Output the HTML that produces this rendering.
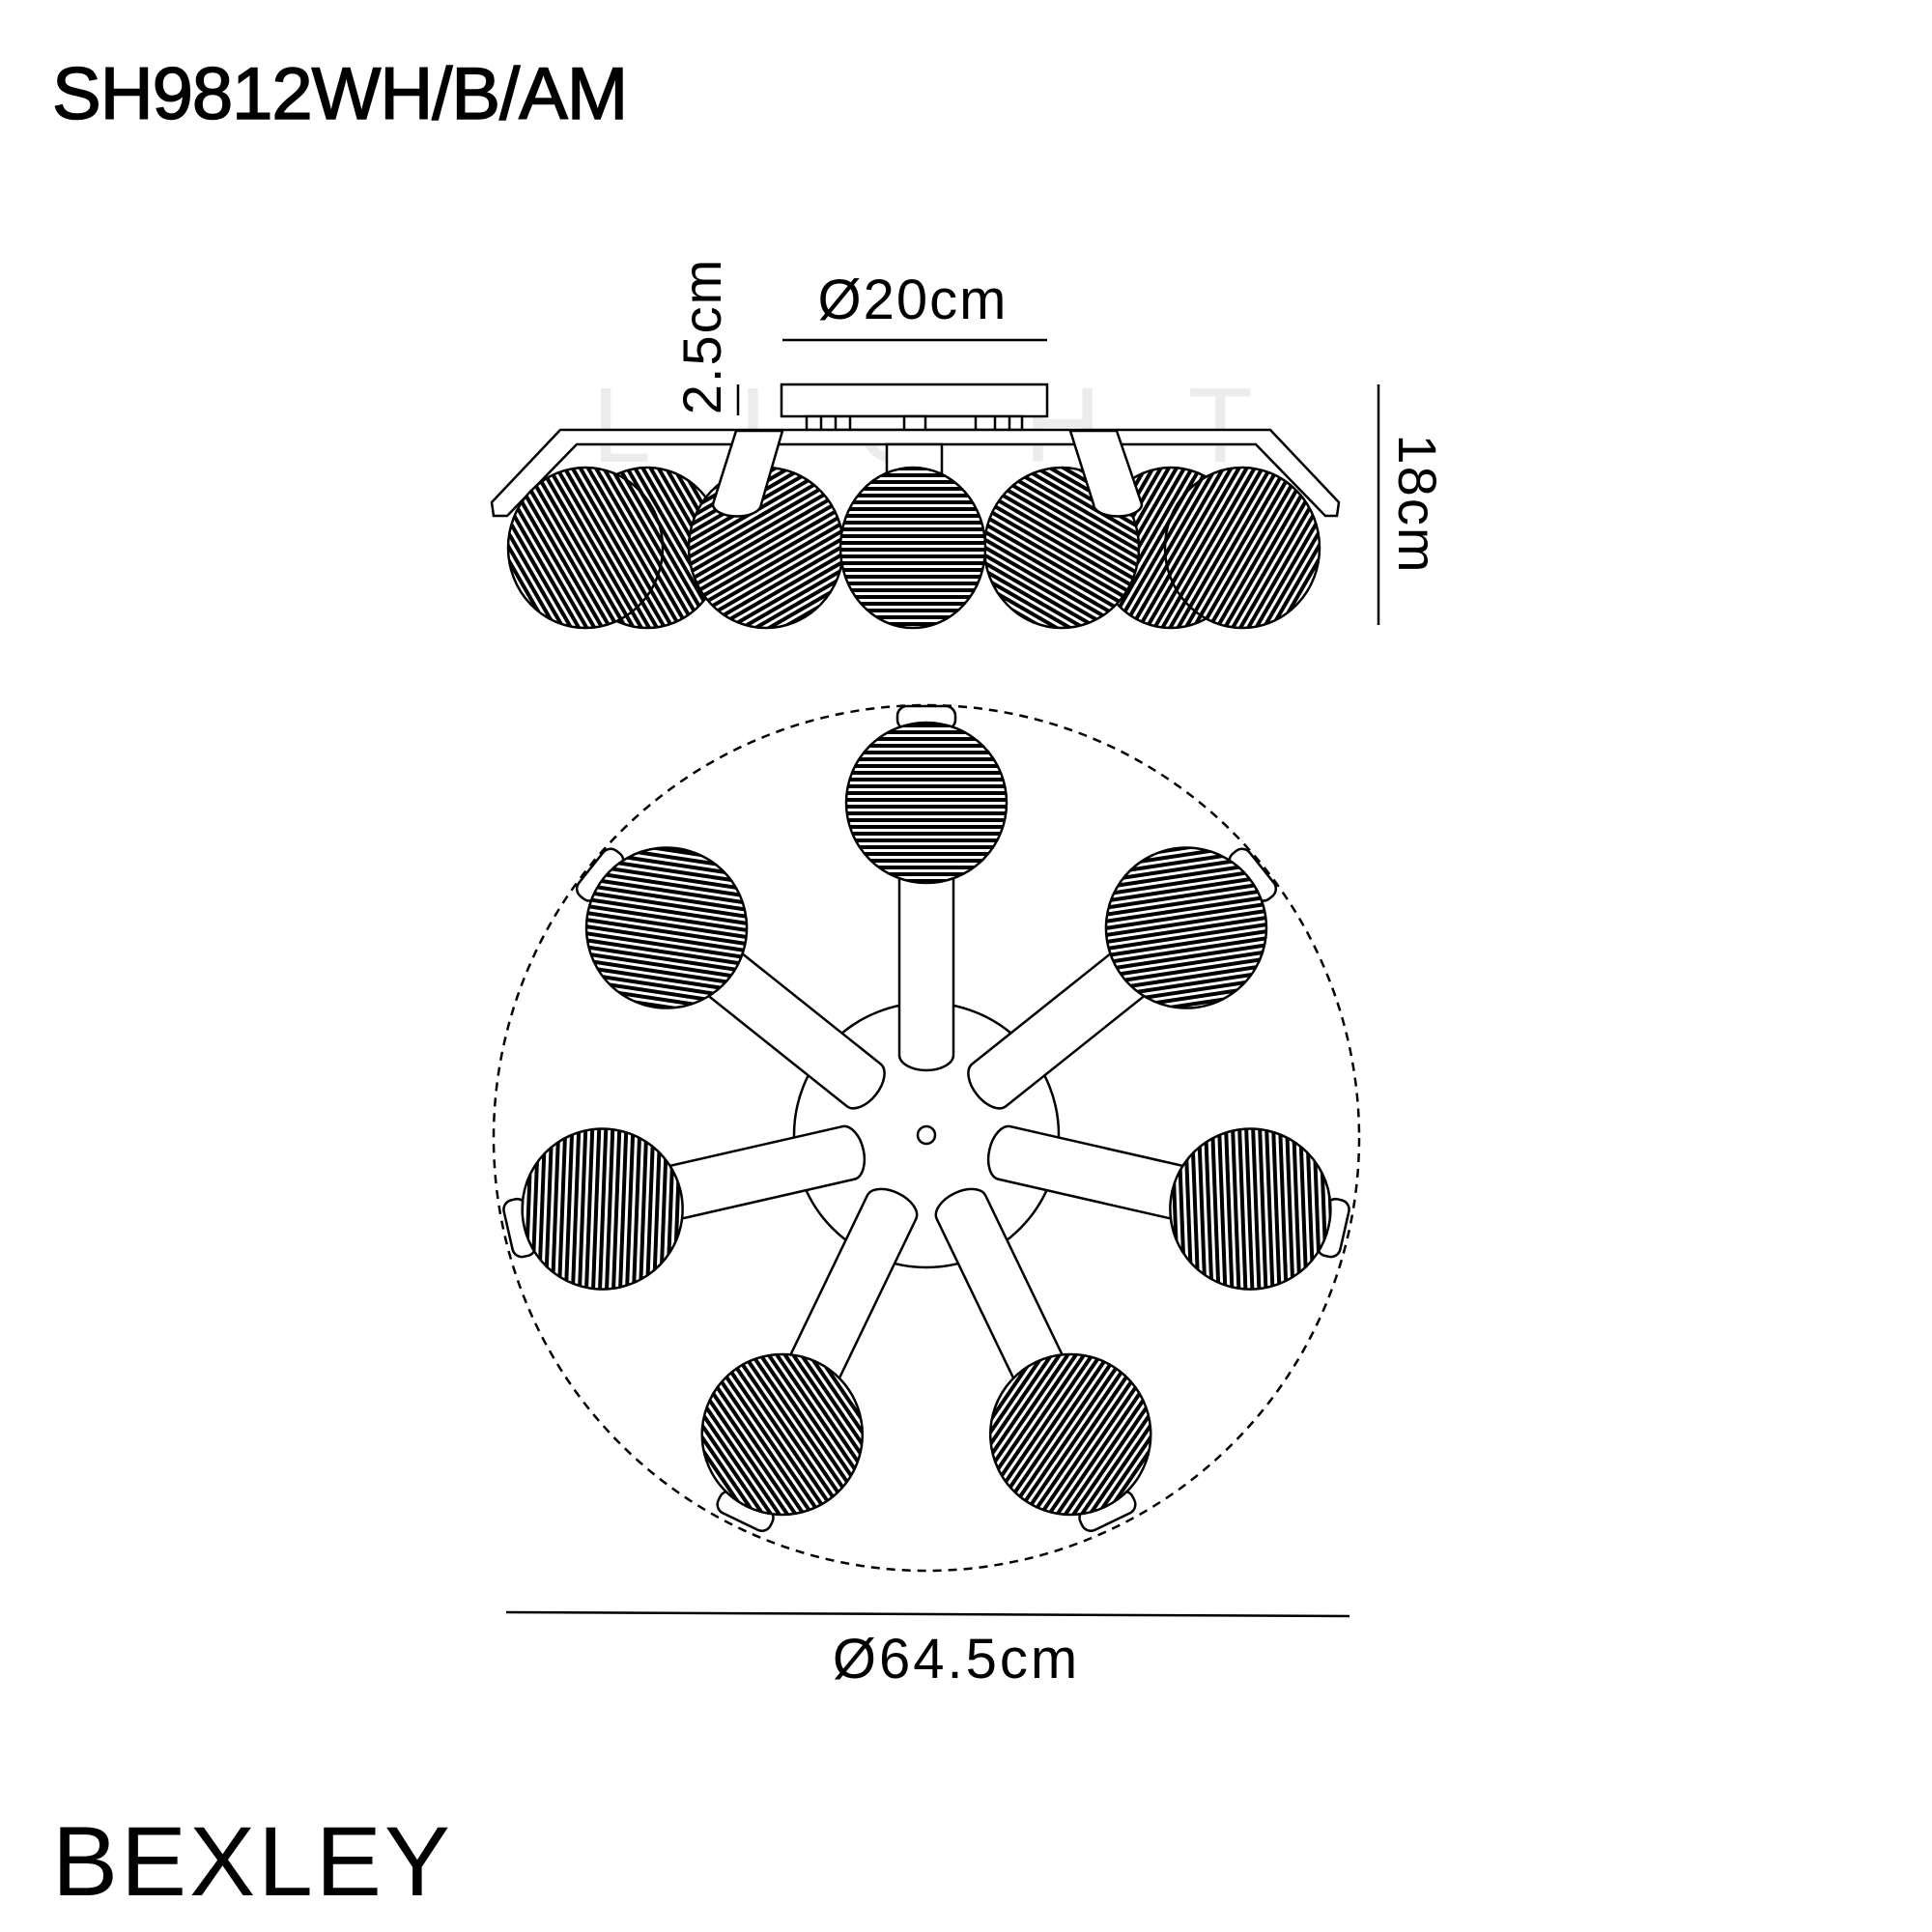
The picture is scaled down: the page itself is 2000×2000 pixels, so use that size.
<!DOCTYPE html>
<html><head><meta charset="utf-8"><style>
html,body{margin:0;padding:0;background:#fff;}
svg{display:block;}
text{font-family:"Liberation Sans",sans-serif;fill:#000;}
</style></head><body>
<svg width="2000" height="2000" viewBox="0 0 2000 2000" xmlns="http://www.w3.org/2000/svg">
<defs>
<pattern id="h0" width="20" height="7" patternUnits="userSpaceOnUse"><rect width="20" height="7" fill="#fff"/><rect y="0" width="20" height="4" fill="#000"/></pattern>
<pattern id="h1" width="20" height="7" patternUnits="userSpaceOnUse" patternTransform="rotate(-30)"><rect width="20" height="7" fill="#fff"/><rect width="20" height="4" fill="#000"/></pattern>
<pattern id="h2" width="20" height="7" patternUnits="userSpaceOnUse" patternTransform="rotate(30)"><rect width="20" height="7" fill="#fff"/><rect width="20" height="4" fill="#000"/></pattern>
<pattern id="h3" width="20" height="7" patternUnits="userSpaceOnUse" patternTransform="rotate(60)"><rect width="20" height="7" fill="#fff"/><rect width="20" height="4" fill="#000"/></pattern>
<pattern id="h4" width="20" height="7" patternUnits="userSpaceOnUse" patternTransform="rotate(-60)"><rect width="20" height="7" fill="#fff"/><rect width="20" height="4" fill="#000"/></pattern>
<pattern id="h6" width="20" height="7" patternUnits="userSpaceOnUse" patternTransform="rotate(-15)"><rect width="20" height="7" fill="#fff"/><rect width="20" height="4" fill="#000"/></pattern>
<pattern id="h7" width="20" height="7" patternUnits="userSpaceOnUse" patternTransform="rotate(15)"><rect width="20" height="7" fill="#fff"/><rect width="20" height="4" fill="#000"/></pattern>
</defs>

<text x="54" y="123" font-size="76" stroke="#000" stroke-width="1.5" style="letter-spacing:-1px">SH9812WH/B/AM</text>
<text x="54" y="1962" font-size="102" style="letter-spacing:3px">BEXLEY</text>

<text x="1000" y="478" font-size="110" text-anchor="middle" style="fill:#ececec;letter-spacing:90px">LIGHT</text>

<g stroke="#000" stroke-width="2.5" fill="#fff">
<line x1="810" y1="352" x2="1084" y2="352"/>
<text x="945" y="330" font-size="58" text-anchor="middle" stroke="none" style="letter-spacing:2px">Ø20cm</text>
<line x1="764" y1="398" x2="764" y2="430"/>
<text transform="translate(746,348) rotate(-90)" font-size="56" text-anchor="middle" stroke="none" style="letter-spacing:2px">2.5cm</text>
<line x1="1427" y1="398" x2="1427" y2="647"/>
<text transform="translate(1448,522) rotate(90)" font-size="56" text-anchor="middle" stroke="none" style="letter-spacing:2px">18cm</text>

<rect x="809" y="398" width="275" height="33"/>
<rect x="835" y="431" width="223" height="14"/>
<line x1="850" y1="431" x2="850" y2="445"/><line x1="865" y1="431" x2="865" y2="445"/><line x1="880" y1="431" x2="880" y2="445"/><line x1="1010" y1="431" x2="1010" y2="445"/><line x1="1030" y1="431" x2="1030" y2="445"/><line x1="1045" y1="431" x2="1045" y2="445"/>
<rect x="936" y="431" width="22" height="26"/>
<path d="M580,445 L1315,445 L1386,520 L1384,534 L1372,534 L1300,460 L597,460 L525,534 L511,534 L509,520 Z"/>
<rect x="918" y="460" width="57" height="30"/>
<ellipse cx="670" cy="567" rx="78" ry="83" fill="url(#h3)"/>
<ellipse cx="1212" cy="567" rx="78" ry="83" fill="url(#h4)"/>
<ellipse cx="606" cy="567" rx="80" ry="83" fill="url(#h3)"/>
<ellipse cx="1286" cy="567" rx="80" ry="83" fill="url(#h4)"/>
<ellipse cx="793" cy="567" rx="80" ry="83" fill="url(#h1)"/>
<ellipse cx="1099" cy="567" rx="80" ry="83" fill="url(#h2)"/>
<ellipse cx="945" cy="567" rx="75" ry="83" fill="url(#h0)"/>
<path d="M762,446 L810,446 L788,522 A24,12 0 0 1 738,522 Z"/>
<path d="M1108,446 L1156,446 L1182,522 A24,12 0 0 1 1132,522 Z"/>
</g>

<circle cx="959" cy="1178" r="448" fill="none" stroke="#000" stroke-width="2.5" stroke-dasharray="9,7"/>
<circle cx="959" cy="1175" r="137" fill="#fff" stroke="#000" stroke-width="2.5"/>
<circle cx="959" cy="1175" r="9" fill="#fff" stroke="#000" stroke-width="2.5"/>
<g stroke="#000" stroke-width="2.5" fill="#fff">
<g transform="rotate(0 959 1175)"><rect x="929" y="731" width="60" height="24" rx="10"/><path d="M931,880 L931,1092 A28,16 0 0 0 987,1092 L987,880"/><circle cx="959" cy="831" r="83" fill="url(#h0)"/></g>
<g transform="rotate(51.43 959 1175)"><rect x="929" y="731" width="60" height="24" rx="10"/><path d="M931,880 L931,1092 A28,16 0 0 0 987,1092 L987,880"/><circle cx="959" cy="831" r="83" fill="url(#h4)"/></g>
<g transform="rotate(102.86 959 1175)"><rect x="929" y="731" width="60" height="24" rx="10"/><path d="M931,880 L931,1092 A28,16 0 0 0 987,1092 L987,880"/><circle cx="959" cy="831" r="83" fill="url(#h6)"/></g>
<g transform="rotate(154.29 959 1175)"><rect x="929" y="731" width="60" height="24" rx="10"/><path d="M931,880 L931,1092 A28,16 0 0 0 987,1092 L987,880"/><circle cx="959" cy="831" r="83" fill="url(#h1)"/></g>
<g transform="rotate(205.71 959 1175)"><rect x="929" y="731" width="60" height="24" rx="10"/><path d="M931,880 L931,1092 A28,16 0 0 0 987,1092 L987,880"/><circle cx="959" cy="831" r="83" fill="url(#h2)"/></g>
<g transform="rotate(257.14 959 1175)"><rect x="929" y="731" width="60" height="24" rx="10"/><path d="M931,880 L931,1092 A28,16 0 0 0 987,1092 L987,880"/><circle cx="959" cy="831" r="83" fill="url(#h7)"/></g>
<g transform="rotate(308.57 959 1175)"><rect x="929" y="731" width="60" height="24" rx="10"/><path d="M931,880 L931,1092 A28,16 0 0 0 987,1092 L987,880"/><circle cx="959" cy="831" r="83" fill="url(#h3)"/></g>
</g>
<line x1="524" y1="1669" x2="1397" y2="1673" stroke="#000" stroke-width="2.5"/>
<text x="990" y="1737" font-size="58" text-anchor="middle" style="letter-spacing:3px">Ø64.5cm</text>
</svg>
</body></html>
